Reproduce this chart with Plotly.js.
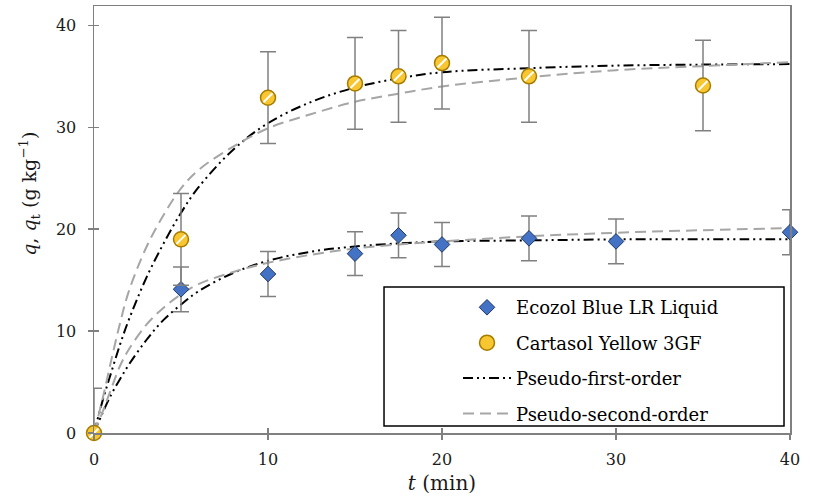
<!DOCTYPE html>
<html>
<head>
<meta charset="utf-8">
<script src="https://cdn.plot.ly/plotly-3.0.1.min.js"></script>
<style>html,body{margin:0;padding:0;background:#fff;}#chart{width:815px;height:502px;}</style>
</head>
<body>
<div id="chart"></div>
<script>
// Observed data
const ecozolT = [0, 5, 10, 15, 17.5, 20, 25, 30, 40];
const ecozolQ = [0, 14.1, 15.6, 17.6, 19.4, 18.5, 19.1, 18.8, 19.7];
const ecozolErr = [0, 2.2, 2.2, 2.15, 2.2, 2.15, 2.2, 2.2, 2.2];

const cartasolT = [0, 5, 10, 15, 17.5, 20, 25, 35];
const cartasolQ = [0, 19.0, 32.9, 34.3, 35.0, 36.3, 35.0, 34.1];
const cartasolErrPlus = [4.4, 4.5, 4.5, 4.5, 4.5, 4.5, 4.5, 4.45];
const cartasolErrMinus = [0, 4.5, 4.5, 4.5, 4.5, 4.5, 4.5, 4.45];

// Model curves
const tModel = [0, 0.5, 1, 1.5, 2, 3, 4, 5, 6, 8, 10, 12.5, 15, 17.5, 20, 25, 30, 35, 40];
const pfoCartasol = [0, 3.2, 6.0, 8.7, 11.1, 15.2, 18.6, 21.6, 24.1, 27.8, 30.4, 32.5, 33.9, 34.8, 35.4, 35.8, 36.05, 36.15, 36.2];
const psoCartasol = [0, 3.4, 7.2, 10.8, 13.9, 18.2, 21.4, 24.0, 25.8, 28.1, 29.9, 31.3, 32.5, 33.3, 34.0, 34.9, 35.6, 36.0, 36.4];
const pfoEcozol = [0, 2.0, 3.8, 5.3, 6.7, 9.1, 11.1, 12.6, 13.9, 15.7, 16.9, 17.8, 18.3, 18.6, 18.8, 18.9, 19.0, 19.0, 19.0];
const psoEcozol = [0, 2.1, 4.4, 6.6, 8.2, 10.6, 12.3, 13.6, 14.6, 15.8, 16.7, 17.5, 18.1, 18.5, 18.8, 19.3, 19.65, 19.9, 20.1];

const legendNames = ["Ecozol Blue LR Liquid", "Cartasol Yellow 3GF", "Pseudo-first-order", "Pseudo-second-order"];
const xTitle = "<i>t</i> (min)";
const yTitle = "<i>q</i>, <i>q</i><sub>t</sub> (g kg<sup>\u22121</sup>)";

const serif = "DejaVu Serif";
const pfoDash = "10px,4px,2px,4px,2px,4px";
const psoDash = "11px,6px";

const traces = [
  {x: tModel, y: pfoCartasol, mode: "lines", line: {color: "#000000", width: 2, dash: pfoDash, shape: "spline"},
   name: legendNames[2], legendgroup: "pfo", legendrank: 3, showlegend: true},
  {x: tModel, y: pfoEcozol, mode: "lines", line: {color: "#000000", width: 2, dash: pfoDash, shape: "spline"},
   name: legendNames[2], legendgroup: "pfo", showlegend: false},
  {x: tModel, y: psoCartasol, mode: "lines", line: {color: "#A6A6A6", width: 2, dash: psoDash, shape: "spline"},
   name: legendNames[3], legendgroup: "pso", legendrank: 4, showlegend: true},
  {x: tModel, y: psoEcozol, mode: "lines", line: {color: "#A6A6A6", width: 2, dash: psoDash, shape: "spline"},
   name: legendNames[3], legendgroup: "pso", showlegend: false},
  {x: ecozolT, y: ecozolQ, mode: "markers", name: legendNames[0], legendgroup: "eco", legendrank: 1,
   marker: {symbol: "diamond", size: 12, color: "#4472C4", line: {color: "#203864", width: 1}},
   error_y: {type: "data", array: ecozolErr, visible: true, color: "#808080", thickness: 1.5, width: 8},
   cliponaxis: false},
  {x: cartasolT, y: cartasolQ, mode: "markers", name: legendNames[1], legendgroup: "car", legendrank: 2,
   marker: {symbol: "circle", size: 15, color: "#F7C631", line: {color: "#A67C00", width: 1.5}},
   error_y: {type: "data", symmetric: false, array: cartasolErrPlus, arrayminus: cartasolErrMinus, visible: true, color: "#808080", thickness: 1.5, width: 8},
   cliponaxis: false},
  {x: cartasolT, y: cartasolQ, mode: "markers", showlegend: false, hoverinfo: "skip",
   marker: {symbol: "line-ne", size: 9, color: "#ffffff", line: {color: "#ffffff", width: 2}},
   cliponaxis: false},
  {x: [], y: [], xaxis: "x2", yaxis: "y2", showlegend: false}
];

const layout = {
  width: 815, height: 502,
  margin: {l: 94, r: 25, t: 6, b: 69},
  paper_bgcolor: "#ffffff", plot_bgcolor: "#ffffff",
  font: {family: serif, size: 16, color: "#1a1a1a"},
  showlegend: true,
  xaxis: {
    range: [0, 40], dtick: 10, tick0: 0, showgrid: false, zeroline: false,
    showline: true, linecolor: "#808080", linewidth: 1.5, mirror: true,
    ticks: "outside", ticklen: 5, tickcolor: "#808080", tickwidth: 1.5, ticklabelstandoff: 6,
    tickfont: {family: serif, size: 16, color: "#1a1a1a"},
    title: {text: xTitle, font: {family: serif, size: 20, color: "#1a1a1a"}, standoff: 8}
  },
  yaxis: {
    range: [0, 41.9], dtick: 10, tick0: 0, showgrid: false, zeroline: false,
    showline: true, linecolor: "#808080", linewidth: 1.5, mirror: true,
    ticks: "outside", ticklen: 5, tickcolor: "#808080", tickwidth: 1.5, ticklabelstandoff: 8,
    tickfont: {family: serif, size: 16, color: "#1a1a1a"}
  },
  xaxis2: {overlaying: "x", anchor: "y2", range: [0, 40], dtick: 10, tick0: 0, showgrid: false, zeroline: false,
    showline: false, ticks: "inside", ticklen: 5, tickcolor: "#808080", tickwidth: 1.5, showticklabels: false},
  yaxis2: {overlaying: "y", anchor: "x2", range: [0, 41.9], dtick: 10, tick0: 0, showgrid: false, zeroline: false,
    showline: false, ticks: "inside", ticklen: 5, tickcolor: "#808080", tickwidth: 1.5, showticklabels: false},
  annotations: [
    {text: yTitle, xref: "paper", yref: "paper", x: -0.092, y: 0.56, xanchor: "center", yanchor: "middle",
     textangle: -90, showarrow: false, font: {family: serif, size: 19, color: "#1a1a1a"}}
  ],
  legend: {
    x: 0.523, xanchor: "left", y: 0.337, yanchor: "top",
    bgcolor: "rgba(0,0,0,0)", borderwidth: 0, itemwidth: 48,
    font: {family: serif, size: 18, color: "#000000"},
    tracegroupgap: 9, traceorder: "grouped"
  },
  shapes: [
    {type: "rect", xref: "paper", yref: "paper", x0: 0.4167, x1: 0.9914, y0: 0.0164, y1: 0.3419,
     line: {color: "#000000", width: 1.5}, fillcolor: "#ffffff", layer: "below"}
  ]
};

Plotly.newPlot("chart", traces, layout, {displayModeBar: false, staticPlot: true});
</script>
</body>
</html>
